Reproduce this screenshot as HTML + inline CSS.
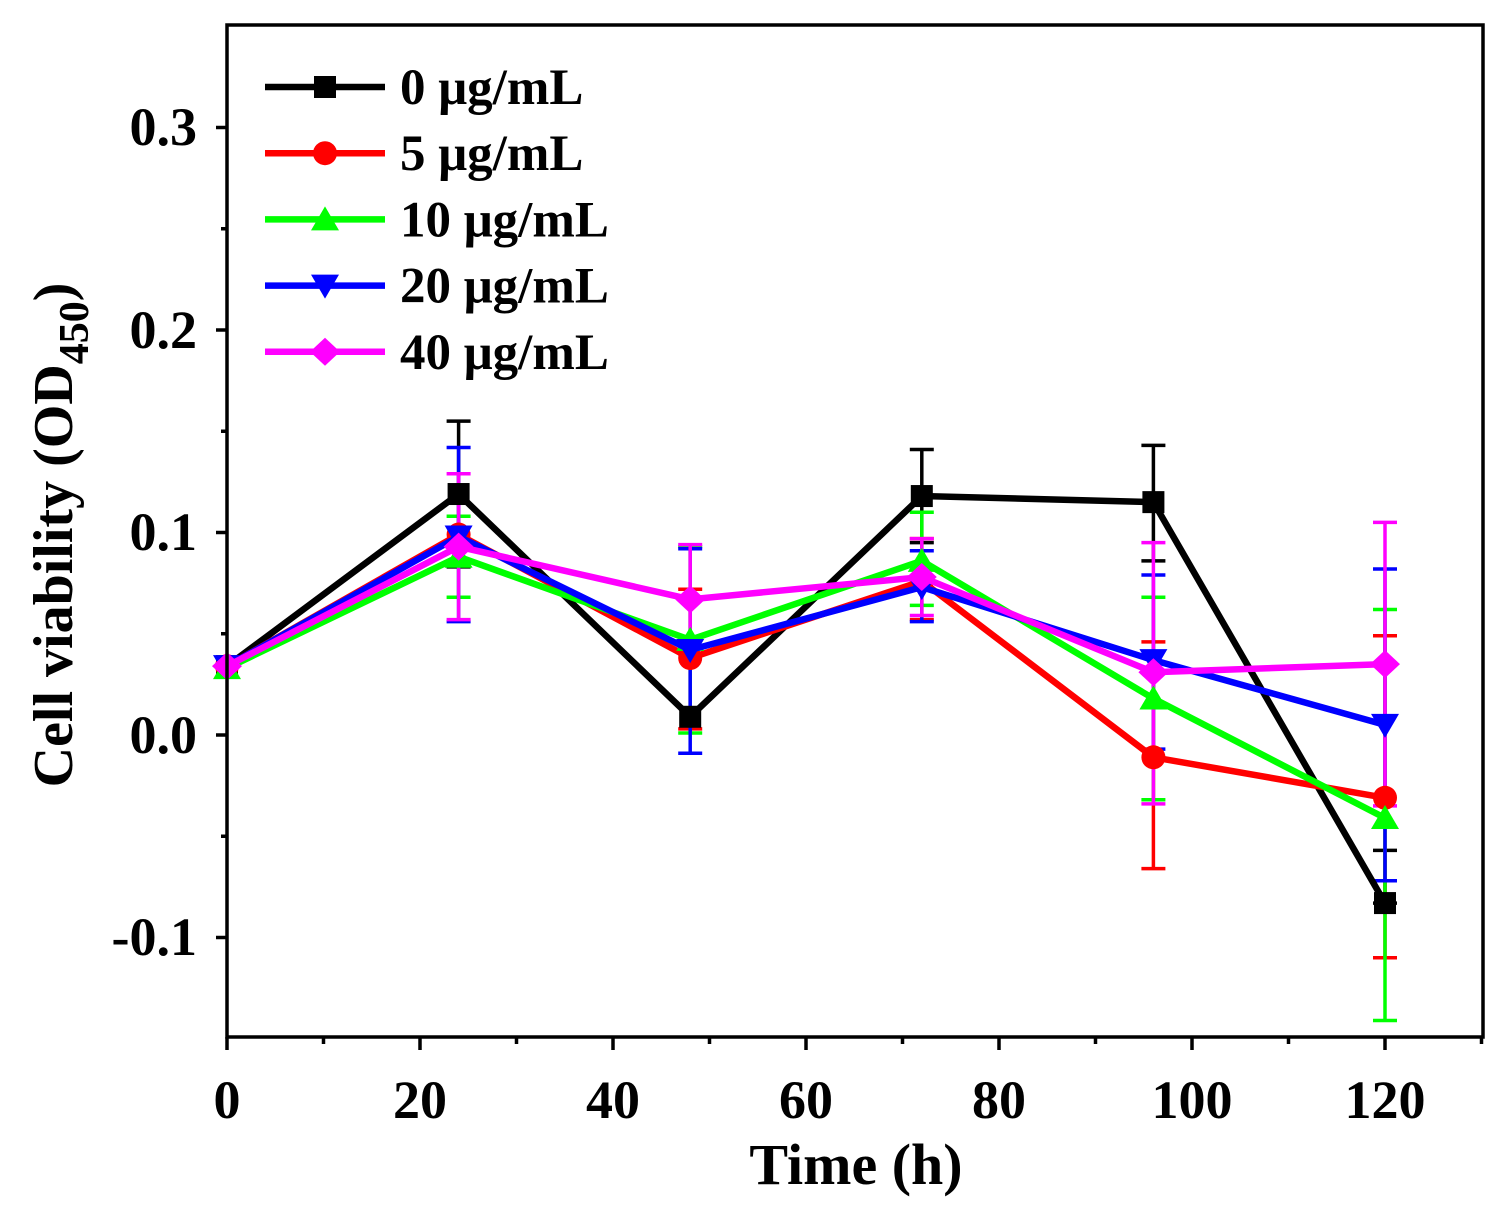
<!DOCTYPE html>
<html><head><meta charset="utf-8"><style>
html,body{margin:0;padding:0;background:#fff;}
svg{display:block;font-family:"Liberation Serif",serif;font-weight:bold;}
</style></head><body>
<svg id="s" width="1505" height="1216" viewBox="0 0 1505 1216" xmlns="http://www.w3.org/2000/svg">
<rect x="0" y="0" width="1505" height="1216" fill="#fff"/>
<g id="plot"></g>
<rect x="227" y="25" width="1256" height="1012" fill="none" stroke="#000" stroke-width="3.5"/>
<g id="ticks" stroke="#000" stroke-width="3.5"></g>
<g font-size="54" text-anchor="end">
<text x="197" y="145">0.3</text>
<text x="197" y="348">0.2</text>
<text x="197" y="550">0.1</text>
<text x="197" y="753">0.0</text>
<text x="197" y="955">-0.1</text>
</g>
<g font-size="54" text-anchor="middle">
<text x="227" y="1118">0</text>
<text x="420" y="1118">20</text>
<text x="613" y="1118">40</text>
<text x="806" y="1118">60</text>
<text x="999" y="1118">80</text>
<text x="1192" y="1118">100</text>
<text x="1385" y="1118">120</text>
</g>
<text x="856" y="1184" font-size="58" text-anchor="middle">Time (h)</text>
<text transform="translate(72,535) rotate(-90)" font-size="56" text-anchor="middle">Cell viability (OD<tspan font-size="42" dy="16">450</tspan><tspan dy="-16">)</tspan></text>
<g id="legend" font-size="51"></g>
</svg>
<script>
var X=function(t){return 227+t*9.65;},Y=function(v){return 735-v*2025;};
var T=[0,24,48,72,96,120];
var S=[
 {c:"#000",m:"sq",l:"0 μg/mL",v:[0.034,0.119,0.009,0.118,0.115,-0.083],e:[[0.034,0.034],[0.155,0.083],[0.009,0.009],[0.141,0.095],[0.143,0.086],[-0.057,-0.083]]},
 {c:"#ff0000",m:"ci",l:"5 μg/mL",v:[0.034,0.099,0.038,0.076,-0.011,-0.031],e:[[0.034,0.034],[0.099,0.099],[0.072,0.003],[0.097,0.057],[0.046,-0.066],[0.049,-0.110]]},
 {c:"#00ff00",m:"tu",l:"10 μg/mL",v:[0.033,0.088,0.047,0.086,0.018,-0.041],e:[[0.033,0.033],[0.108,0.068],[0.093,0.001],[0.110,0.064],[0.068,-0.032],[0.062,-0.141]]},
 {c:"#0000ff",m:"td",l:"20 μg/mL",v:[0.034,0.098,0.042,0.073,0.037,0.005],e:[[0.034,0.034],[0.142,0.056],[0.092,-0.009],[0.091,0.056],[0.079,-0.007],[0.082,-0.072]]},
 {c:"#ff00ff",m:"di",l:"40 μg/mL",v:[0.034,0.093,0.067,0.078,0.031,0.035],e:[[0.034,0.034],[0.129,0.057],[0.094,0.040],[0.097,0.059],[0.095,-0.034],[0.105,-0.035]]}
];
function mk(m,x,y,c){
 if(m=="sq")return '<rect x="'+(x-11)+'" y="'+(y-11)+'" width="22" height="22" fill="'+c+'"/>';
 if(m=="ci")return '<circle cx="'+x+'" cy="'+y+'" r="12" fill="'+c+'"/>';
 if(m=="tu")return '<polygon points="'+x+','+(y-13)+' '+(x-14)+','+(y+11)+' '+(x+14)+','+(y+11)+'" fill="'+c+'"/>';
 if(m=="td")return '<polygon points="'+x+','+(y+13)+' '+(x-14)+','+(y-11)+' '+(x+14)+','+(y-11)+'" fill="'+c+'"/>';
 return '<polygon points="'+x+','+(y-14)+' '+(x+15)+','+y+' '+x+','+(y+14)+' '+(x-15)+','+y+'" fill="'+c+'"/>';
}
var h='';
S.forEach(function(s){
 T.forEach(function(t,i){var x=X(t),a=Y(s.e[i][0]),b=Y(s.e[i][1]);
  if(Math.abs(a-b)<1)return;
  h+='<line x1="'+x+'" y1="'+a+'" x2="'+x+'" y2="'+b+'" stroke="'+s.c+'" stroke-width="3.5"/>';
  h+='<line x1="'+(x-12)+'" y1="'+a+'" x2="'+(x+12)+'" y2="'+a+'" stroke="'+s.c+'" stroke-width="3.5"/>';
  h+='<line x1="'+(x-12)+'" y1="'+b+'" x2="'+(x+12)+'" y2="'+b+'" stroke="'+s.c+'" stroke-width="3.5"/>';
 });
});
S.forEach(function(s){
 h+='<polyline fill="none" stroke="'+s.c+'" stroke-width="6.5" stroke-linejoin="miter" points="'+T.map(function(t,i){return X(t)+','+Y(s.v[i]);}).join(' ')+'"/>';
 T.forEach(function(t,i){h+=mk(s.m,X(t),Y(s.v[i]),s.c);});
});
document.getElementById('plot').innerHTML=h;
var k='';
[0.3,0.2,0.1,0,-0.1].forEach(function(v){k+='<line x1="216" y1="'+Y(v)+'" x2="227" y2="'+Y(v)+'"/>';});
[0.25,0.15,0.05,-0.05].forEach(function(v){k+='<line x1="221" y1="'+Y(v)+'" x2="227" y2="'+Y(v)+'"/>';});
for(var t=0;t<=130;t+=10){k+='<line x1="'+X(t)+'" y1="1037" x2="'+X(t)+'" y2="'+(t%20==0?1050:1044)+'"/>';}
document.getElementById('ticks').innerHTML=k;
var g='';
S.forEach(function(s,i){var y=87+i*66.2;
 g+='<line x1="265" y1="'+y+'" x2="385" y2="'+y+'" stroke="'+s.c+'" stroke-width="6.5"/>'+mk(s.m,325,y,s.c);
 g+='<text x="400" y="'+(y+17)+'">'+s.l+'</text>';
});
document.getElementById('legend').innerHTML=g;
</script>
</body></html>
